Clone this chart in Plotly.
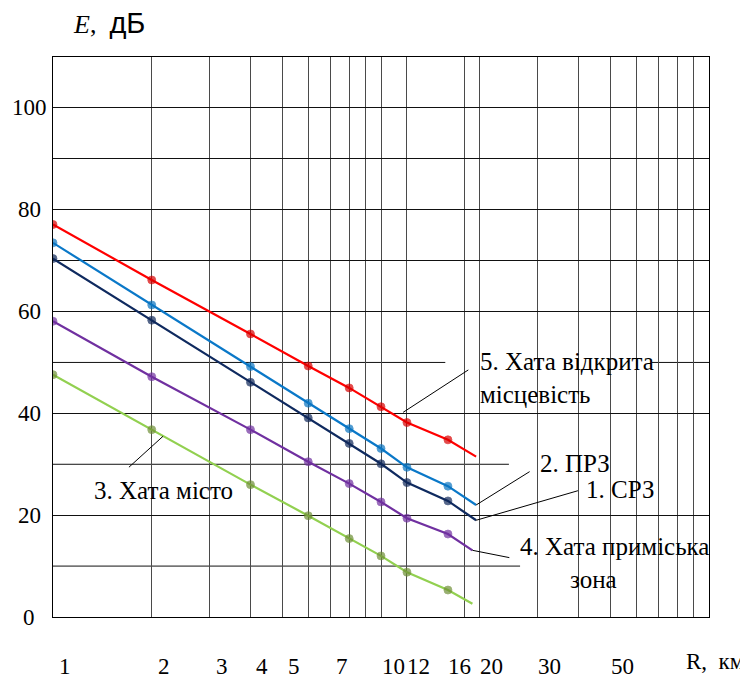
import numpy as np
import plotly.graph_objects as go

# ---------------- data ----------------
R_points = [1, 2, 4, 6, 8, 10, 12, 16]

E_srz = [70.4, 58.3, 46.1, 39.1, 34.1, 30.1, 26.4, 22.8]      # 1. СРЗ
E_prz = [73.5, 61.3, 49.2, 42.0, 37.0, 33.1, 29.4, 25.7]      # 2. ПРЗ
E_city = [47.6, 36.8, 26.0, 19.9, 15.4, 12.0, 8.8, 5.3]       # 3. Хата місто
E_suburb = [58.1, 47.2, 36.8, 30.5, 26.2, 22.6, 19.4, 16.3]   # 4. Хата приміська зона
E_open = [77.1, 66.2, 55.6, 49.3, 45.0, 41.3, 38.2, 34.8]     # 5. Хата відкрита місцевість

# end of each drawn line (no marker)
R_end = [19.5, 19.5, 19.0, 19.0, 19.5]
E_end = [19.0, 22.0, 2.6, 13.1, 31.5]

series_names = ["1. СРЗ", "2. ПРЗ", "3. Хата місто",
                "4. Хата приміська зона", "5. Хата відкрита місцевість"]
series_values = [E_srz, E_prz, E_city, E_suburb, E_open]
line_colors = ["#0F2A5F", "#0A78C8", "#92D050", "#7030A0", "#FF0000"]
marker_colors = ["#10285A", "#0A74C0", "#6F8F36", "#7030A0", "#D80000"]

x_tick_vals = [1, 2, 3, 4, 5, 7, 10, 12, 16, 20, 30, 50]
x_tick_text = ["1", "2", "3", "4", "5", "7", "10", "12", "16", "20", "30", "50"]
x_grid_vals = [1, 2, 3, 4, 5, 6, 7, 8, 9, 10, 12, 18, 20, 30, 40, 50, 60, 70, 80, 90, 100]

y_tick_vals = [0, 20, 40, 60, 80, 100]
y_tick_text = ["0", "20", "40", "60", "80", "100"]
y_full_grid = [20, 40, 60, 70, 80, 90, 100]
# partial horizontal grid lines: (value, paper x start, paper x end)
y_partial_grid = [(10, 0.0, 0.712), (30, 0.0, 0.695), (50, 0.0, 0.598), (50, 0.913, 1.0)]

SERIF = "Liberation Serif"
SANS = "Liberation Sans"

fig = go.Figure()

for name, vals, rend, eend, lc, mc in zip(series_names, series_values, R_end, E_end,
                                          line_colors, marker_colors):
    xs = list(R_points) + [rend]
    ys = list(vals) + [eend]
    sizes = [8] * len(R_points) + [0]
    fig.add_trace(go.Scatter(
        x=xs, y=ys, mode="lines+markers", name=name,
        line=dict(color=lc, width=2.2),
        marker=dict(size=sizes, color=mc, line=dict(width=0.8, color=mc)),
        showlegend=False, hoverinfo="x+y+name",
    ))

shapes = []
for yv, x0, x1 in y_partial_grid:
    shapes.append(dict(type="line", xref="paper", yref="y", x0=x0, x1=x1, y0=yv, y1=yv,
                       line=dict(color="#111111", width=1), layer="below"))

annotations = []
tick_font = dict(family=SERIF, size=23, color="#000")
# x tick labels
for v, t in zip(x_tick_vals, x_tick_text):
    annotations.append(dict(x=np.log10(v), y=-0.0875, xref="x", yref="paper", text=t,
                            showarrow=False, xanchor="center", yanchor="middle", xshift=12,
                            font=tick_font))
# y tick labels (centred, as in the original)
for v, t in zip(y_tick_vals, y_tick_text):
    annotations.append(dict(x=0, y=v, xref="paper", yref="y", text=t,
                            showarrow=False, xanchor="center", yanchor="middle", xshift=-24,
                            font=tick_font))
# axis titles
annotations.append(dict(x=1.058, y=-0.0786, xref="paper", yref="paper", text="R,&nbsp; км",
                        showarrow=False, xanchor="right", yanchor="middle",
                        font=dict(family=SERIF, size=23, color="#000")))
annotations.append(dict(x=0.028, y=1.061, xref="paper", yref="paper",
                        text="<i>E</i>,&nbsp;&nbsp;<span style='font-family:Liberation Sans;font-size:29px'>дБ</span>",
                        showarrow=False, xanchor="left", yanchor="middle",
                        font=dict(family=SERIF, size=26, color="#000")))

# series labels
lab_font = dict(family=SERIF, size=25, color="#000")
annotations += [
    dict(x=np.log10(2.17), y=24.9, text="3. Хата місто", showarrow=False,
         xanchor="center", yanchor="middle", font=lab_font),
    dict(x=1.296, y=47.0, text="5. Хата відкрита<br>місцевість", showarrow=False,
         xanchor="left", yanchor="middle", align="left", font=lab_font),
    dict(x=1.590, y=30.1, text="2. ПРЗ", showarrow=False,
         xanchor="center", yanchor="middle", font=lab_font),
    dict(x=1.728, y=25.0, text="1. СРЗ", showarrow=False,
         xanchor="center", yanchor="middle", font=lab_font),
    dict(x=1.4168, y=10.6,
         text="4. Хата приміська<br>" + "&nbsp;" * 8 + "зона", showarrow=False,
         xanchor="left", yanchor="middle", align="left", font=lab_font),
]
# leader lines (head on the curve, tail toward the label)
leaders = [
    (np.log10(2.165), 35.5, -35.6, 32.3),
    (1.0674, 40.2, 66.7, -43.4),
    (np.log10(19.5), 22.0, 55.0, -34.3),
    (np.log10(19.5), 19.0, 103.3, -30.0),
    (np.log10(19.0), 13.1, 38.4, 7.6),
]
for hx, hy, ax, ay in leaders:
    annotations.append(dict(x=hx, y=hy, ax=ax, ay=ay, text=" ", showarrow=True,
                            arrowhead=0, arrowwidth=1, arrowcolor="#000", standoff=0,
                            startstandoff=0, font=dict(size=1)))

# page body has an 8px margin, so the figure is sized to fit inside the window
fig.update_layout(
    width=740, height=671,
    margin=dict(l=45, r=39, t=49, b=62, autoexpand=False),
    paper_bgcolor="white", plot_bgcolor="white",
    shapes=shapes, annotations=annotations,
    font=dict(family=SERIF, color="#000"),
)
fig.update_xaxes(
    type="log", range=[0, 2], automargin=False,
    tickmode="array", tickvals=x_grid_vals, showticklabels=False, ticks="",
    showgrid=True, gridcolor="#4a4a4a", gridwidth=1,
    showline=True, mirror=True, linecolor="#000", linewidth=1, zeroline=False,
)
fig.update_yaxes(
    range=[0, 110], automargin=False,
    tickmode="array", tickvals=y_full_grid, showticklabels=False, ticks="",
    showgrid=True, gridcolor="#111111", gridwidth=1,
    showline=True, mirror=True, linecolor="#000", linewidth=1, zeroline=False,
)

fig.write_html("out.html")
